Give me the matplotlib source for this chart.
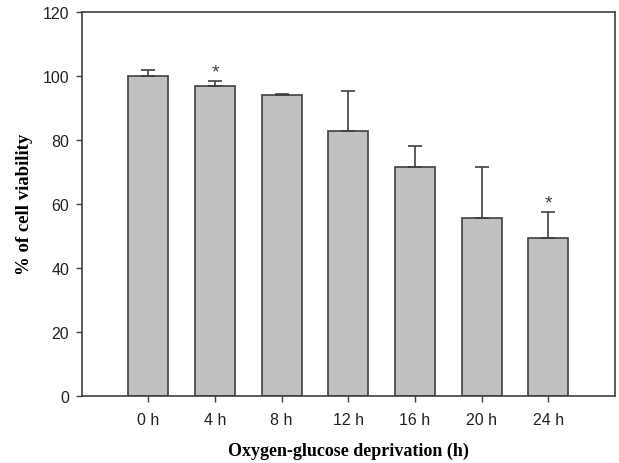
import matplotlib
matplotlib.use("Agg")
import matplotlib.pyplot as plt

# Cell viability after oxygen-glucose deprivation
labels = ['0 h', '4 h', '8 h', '12 h', '16 h', '20 h', '24 h']
viability = [100.0, 97.0, 94.0, 82.8, 71.6, 55.6, 49.3]
sem = [1.8, 1.5, 0.3, 12.6, 6.4, 16.0, 8.1]
starred = [1, 6]

fig = plt.figure(figsize=(6.19, 4.64), dpi=100)
ax = fig.add_axes([0.132, 0.145, 0.8615, 0.827])

x = list(range(len(labels)))
ax.bar(x, viability, width=0.6, color='#c0c0c0', edgecolor='#404040', linewidth=1.2, zorder=2)
ax.errorbar(x, viability, yerr=[[0] * len(sem), sem], fmt='none', ecolor='#404040',
            elinewidth=1.2, capsize=5, capthick=1.2, zorder=3)

# significance markers
for i in starred:
    ax.text(x[i], viability[i] + sem[i] + 2.8, '*', ha='center', va='center',
            fontsize=14, color='#404040', family='Liberation Sans')

ax.set_xlim(-1, 7)
ax.set_ylim(0, 120)
ax.set_yticks(range(0, 121, 20))
ax.set_xticks(x)
ax.set_xticklabels(labels)
ax.tick_params(direction='out', length=4, width=1, color='#404040', labelsize=11.5)
ax.tick_params(axis='x', pad=8)
ax.tick_params(axis='y', pad=5)
for lbl in ax.get_xticklabels() + ax.get_yticklabels():
    lbl.set_family('Liberation Sans')
    lbl.set_color('#222222')
for s in ax.spines.values():
    s.set_color('#404040')
    s.set_linewidth(1.2)

ax.set_xlabel('Oxygen-glucose deprivation (h)', family='Liberation Serif', fontweight='bold',
              fontsize=13, labelpad=10)
ax.set_ylabel('% of cell viability', family='Liberation Serif', fontweight='bold',
              fontsize=13.5, labelpad=7)

fig.savefig('out.png', dpi=100)
